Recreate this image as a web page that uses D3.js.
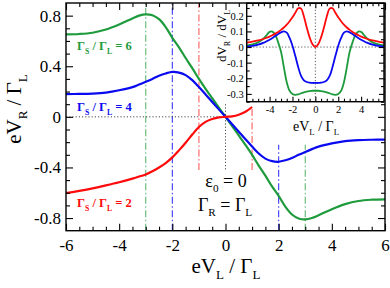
<!DOCTYPE html>
<html><head><meta charset="utf-8">
<script src="https://cdn.jsdelivr.net/npm/d3@7"></script>
<style>body{margin:0;background:#fff}svg{display:block}</style>
</head><body>
<svg id="c" width="390" height="288"></svg>
<script>
// ---------- data ----------
const mainX = [-6,-5.5,-5,-4.5,-4,-3.5,-3.25,-3,-2.75,-2.5,-2.25,-2,-1.75,-1.5,-1.25,-1,-0.75,-0.5,-0.25,0,
               0.25,0.5,0.75,1,1.25,1.5,1.75,2,2.25,2.5,2.75,3,3.25,3.5,4,4.5,5,5.5,6];
const greenMain = [0.652,0.655,0.665,0.69,0.73,0.778,0.80,0.81,0.803,0.772,0.71,0.625,0.55,0.465,0.385,0.30,0.222,0.147,0.073,0,
                   -0.073,-0.147,-0.222,-0.30,-0.385,-0.465,-0.55,-0.625,-0.71,-0.772,-0.803,-0.81,-0.80,-0.778,-0.73,-0.69,-0.665,-0.655,-0.652];
const blueMain  = [0.18,0.181,0.184,0.192,0.21,0.235,0.255,0.277,0.30,0.325,0.343,0.355,0.35,0.33,0.29,0.235,0.177,0.118,0.059,0,
                   -0.059,-0.118,-0.177,-0.235,-0.29,-0.33,-0.35,-0.355,-0.343,-0.325,-0.30,-0.277,-0.255,-0.235,-0.21,-0.192,-0.184,-0.181,-0.18];
const redMain   = [-0.603,-0.585,-0.565,-0.542,-0.517,-0.488,-0.472,-0.455,-0.43,-0.40,-0.365,-0.32,-0.265,-0.205,-0.14,-0.08,-0.04,-0.017,-0.004,0,
                   0.004,0.017,0.04,0.078];

const insetX = [-6,-5.5,-5,-4.5,-4.25,-4,-3.75,-3.5,-3.25,-3,-2.75,-2.5,-2.25,-2,-1.75,-1.5,-1.25,-1,-0.75,-0.5,-0.25,0,
                0.25,0.5,0.75,1,1.25,1.5,1.75,2,2.25,2.5,2.75,3,3.25,3.5,3.75,4,4.25,4.5,5,5.5,6];
const redInset   = [0.028,0.034,0.042,0.053,0.06,0.067,0.076,0.086,0.097,0.11,0.125,0.143,0.165,0.19,0.22,0.248,0.246,0.195,0.125,0.062,0.018,0,
                    0.018,0.062,0.125,0.195,0.246,0.248,0.22,0.19,0.165,0.143,0.125,0.11,0.097,0.086,0.076,0.067,0.06,0.053,0.042,0.034,0.028];
const blueInset  = [0.002,0.007,0.015,0.028,0.037,0.047,0.058,0.07,0.083,0.094,0.1,0.092,0.058,0.008,-0.058,-0.128,-0.185,-0.213,-0.224,-0.228,-0.23,-0.23,
                    -0.23,-0.228,-0.224,-0.213,-0.185,-0.128,-0.058,0.008,0.058,0.092,0.1,0.094,0.083,0.07,0.058,0.047,0.037,0.028,0.015,0.007,0.002];
const greenInset = [0.01,0.017,0.03,0.056,0.077,0.097,0.099,0.078,0.03,-0.03,-0.13,-0.225,-0.28,-0.30,-0.306,-0.303,-0.296,-0.29,-0.285,-0.282,-0.28,-0.28,
                    -0.28,-0.282,-0.285,-0.29,-0.296,-0.303,-0.306,-0.30,-0.28,-0.225,-0.13,-0.03,0.03,0.078,0.099,0.097,0.077,0.056,0.03,0.017,0.01];

const mainXTickLabels = [-6,-4,-2,0,2,4,6];
const mainYTickLabels = [-0.8,-0.4,0,0.4,0.8];
const insetXTickLabels = [-4,-2,0,2,4];
const insetYTickLabels = [-0.3,-0.2,-0.1,0,0.1,0.2];

const ratioLabels = ["6","4","2"];
// guide lines: x position, y from, y to
const guideX = [-3,-2,-1,1,2,3];
const guideFrom = [-0.9,-0.9,-0.42,-0.42,-0.9,-0.9];
const guideTo   = [0.9,0.9,0.9,0.075,-0.22,-0.22];
const guideSeries = ["g","b","r","r","b","g"];

// ---------- drawing ----------
const col = {g:"#1e9b3c", b:"#0a0af0", r:"#ff0a0a"};
const colGuide = {g:"#5cb870", b:"#3a3aff", r:"#ff5f5f"};
const serif = "'Liberation Serif','DejaVu Serif',serif";
const svg = d3.select("#c");

const x = d3.scaleLinear().domain([-6,6]).range([66,385]);
const y = d3.scaleLinear().domain([-0.9,0.9]).range([230.7,3]);

const main = svg.append("g");

guideX.forEach((gx,i)=>{
  main.append("line").attr("x1",x(gx)).attr("x2",x(gx))
    .attr("y1",y(guideFrom[i])).attr("y2",y(guideTo[i]))
    .attr("stroke",colGuide[guideSeries[i]]).attr("stroke-width",1.1)
    .attr("stroke-dasharray","7,2.5,1.5,2.5");
});
main.append("line").attr("x1",x(-6)).attr("x2",x(0)).attr("y1",y(0)).attr("y2",y(0))
  .attr("stroke","#333").attr("stroke-width",0.9).attr("stroke-dasharray","1.2,2");
main.append("line").attr("x1",x(0)).attr("x2",x(0)).attr("y1",y(0.1)).attr("y2",y(-0.42))
  .attr("stroke","#333").attr("stroke-width",0.9).attr("stroke-dasharray","1.2,2");

const line = d3.line().curve(d3.curveCatmullRom.alpha(0.5));
function drawSeries(g, xs, ys, xArr, yArr, c, w){
  g.append("path").attr("d", line(yArr.map((v,i)=>[xs(xArr[i]), ys(v)])))
   .attr("fill","none").attr("stroke",c).attr("stroke-width",w).attr("stroke-linejoin","round");
}
drawSeries(main,x,y,mainX,greenMain,col.g,2.2);
drawSeries(main,x,y,mainX,blueMain,col.b,2.2);
drawSeries(main,x,y,mainX.slice(0,redMain.length),redMain,col.r,2.2);

function axes(g, xs, ys, xMajor, xMinor, yMajor, yMinor, Lmaj, Lmin, fs, xPad, yPad){
  const [xl,xr]=xs.range(), [yb,yt]=ys.range();
  const mk = (axisFn, scale, vals, L, fmt, pad, tr) => {
    const a = axisFn(scale).tickValues(vals).tickSizeInner(-L).tickSizeOuter(0)
      .tickFormat(fmt || "").tickPadding(pad||0);
    const gg = g.append("g").attr("transform",tr).call(a);
    gg.select(".domain").remove();
    gg.selectAll(".tick line").attr("stroke","#000").attr("stroke-width",1.1);
    gg.selectAll("text").attr("font-family",serif).attr("font-size",fs).attr("fill","#000");
    return gg;
  };
  mk(d3.axisBottom, xs, xMinor, Lmin, null, 0, `translate(0,${yb})`);
  mk(d3.axisTop, xs, xMinor, Lmin, null, 0, `translate(0,${yt})`);
  mk(d3.axisLeft, ys, yMinor, Lmin, null, 0, `translate(${xl},0)`);
  mk(d3.axisRight, ys, yMinor, Lmin, null, 0, `translate(${xr},0)`);
  mk(d3.axisBottom, xs, xMajor, Lmaj, d=>String(d), xPad, `translate(0,${yb})`);
  mk(d3.axisTop, xs, xMajor, Lmaj, null, 0, `translate(0,${yt})`);
  mk(d3.axisLeft, ys, yMajor, Lmaj, d=>String(d), yPad, `translate(${xl},0)`);
  mk(d3.axisRight, ys, yMajor, Lmaj, null, 0, `translate(${xr},0)`);
  g.append("rect").attr("x",xl).attr("y",yt).attr("width",xr-xl).attr("height",yb-yt)
    .attr("fill","none").attr("stroke","#000").attr("stroke-width",1.4);
}
const mainXMinor = d3.range(-5.5,6,0.5).filter(v=>!mainXTickLabels.includes(v));
const mainYMinor = d3.range(-8,9,1).map(v=>v/10).filter(v=>!mainYTickLabels.includes(v));
axes(main, x, y, mainXTickLabels, mainXMinor, mainYTickLabels, mainYMinor, 7, 4, 17, 8, 5);

function rich(g, parts, px, py, fs, attrs={}, rot=false){
  const t = g.append("text").attr("font-family",serif).attr("font-size",fs)
    .attr("text-anchor", attrs.anchor||"start").attr("fill",attrs.fill||"#000")
    .attr("font-weight",attrs.weight||"normal");
  if(rot) t.attr("transform",`translate(${px},${py}) rotate(-90)`); else t.attr("x",px).attr("y",py);
  let shifted=0;
  parts.forEach(p=>{
    const sub = typeof p !== "string";
    const txt = sub ? p.s : p;
    const target = sub ? fs*0.3 : 0;
    t.append("tspan").attr("dy", target-shifted).attr("font-size", sub? fs*0.62 : fs).text(txt);
    shifted = target;
  });
  return t;
}

rich(svg, ["eV",{s:"R"}," / Γ",{s:"L"}], 21, 109, 21, {anchor:"middle"}, true);
rich(svg, ["eV",{s:"L"}," / Γ",{s:"L"}], 226, 273, 21, {anchor:"middle"});

const labelY = [50, 111, 207];
const labelC = [col.g, col.b, col.r];
ratioLabels.forEach((r,i)=>{
  rich(svg, ["Γ",{s:"S"}," / Γ",{s:"L"}," = "+r], 77, labelY[i], 12.5, {fill:labelC[i], weight:"bold"});
});

rich(svg, ["ε",{s:"0"}," = 0"], 226, 187, 18, {anchor:"middle"});
rich(svg, ["Γ",{s:"R"}," = Γ",{s:"L"}], 225, 211, 18, {anchor:"middle"});

// ---------- inset ----------
const ix = d3.scaleLinear().domain([-6,6]).range([246.7,384]);
const iy = d3.scaleLinear().domain([-0.35,0.28]).range([101.7,3.3]);
const inset = svg.append("g");
inset.append("rect").attr("x",246.7).attr("y",3.3).attr("width",384-246.7).attr("height",101.7-3.3).attr("fill","#fff");
inset.append("line").attr("x1",ix(-6)).attr("x2",ix(6)).attr("y1",iy(0)).attr("y2",iy(0))
  .attr("stroke","#333").attr("stroke-width",0.8).attr("stroke-dasharray","1.2,2");
inset.append("line").attr("x1",ix(0)).attr("x2",ix(0)).attr("y1",iy(0.28)).attr("y2",iy(-0.35))
  .attr("stroke","#333").attr("stroke-width",0.8).attr("stroke-dasharray","1.2,2");
drawSeries(inset,ix,iy,insetX,greenInset,col.g,1.8);
drawSeries(inset,ix,iy,insetX,blueInset,col.b,1.8);
drawSeries(inset,ix,iy,insetX,redInset,col.r,1.8);
const insetXMinor = d3.range(-5.5,6,0.5).filter(v=>!insetXTickLabels.includes(v));
const insetYMinor = d3.range(-35,28,5).map(v=>v/100).filter(v=>!insetYTickLabels.some(t=>Math.abs(t-v)<1e-9));
axes(inset, ix, iy, insetXTickLabels, insetXMinor, insetYTickLabels, insetYMinor, 5, 3, 10.5, 4, 3);

rich(svg, ["dV",{s:"R"}," / dV",{s:"L"}], 226, 36, 13, {anchor:"middle"}, true);
rich(svg, ["eV",{s:"L"}," / Γ",{s:"L"}], 316, 131, 14, {anchor:"middle"});
</script>
</body></html>
